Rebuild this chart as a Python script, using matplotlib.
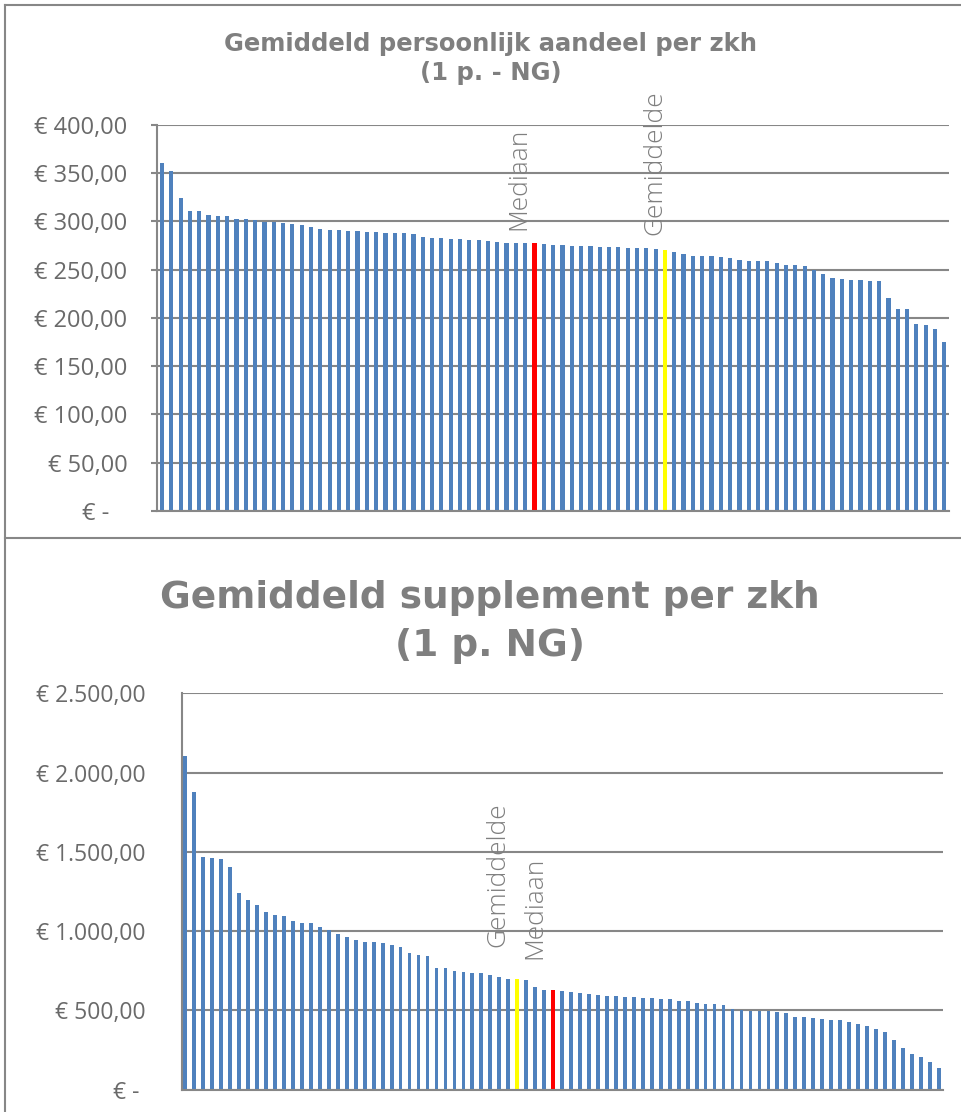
import matplotlib
matplotlib.use("Agg")
import matplotlib.pyplot as plt
from matplotlib.lines import Line2D

# Gemiddeld persoonlijk aandeel per ziekenhuis (1 p. - NG), gesorteerd
aandeel = [361, 352.6, 324, 311, 311, 306.7, 305.7, 305.3, 302.6, 302.6,
           301.9, 299.8, 299.5, 298.4, 297.7, 296.7, 294.6, 292.6, 291.6, 291.2,
           290.5, 289.8, 289.5, 289.1, 288.1, 288.1, 287.8, 286.7, 284.3, 282.9,
           282.6, 282.3, 281.6, 281.2, 280.5, 279.5, 278.8, 278.1, 278.1, 278.1,
           278.1, 276.4, 275.6, 275.6, 274.9, 274.6, 274.6, 273.9, 273.9, 273.6,
           272.9, 272.9, 272.5, 271.5, 270.5, 268.4, 266.3, 264.6, 264.6, 263.9,
           263.6, 262.6, 260.1, 259.4, 259.4, 259.1, 256.7, 255.3, 255.0, 254.3,
           249.7, 245.3, 241.1, 240.4, 239.4, 239.4, 238.3, 238.3, 220.4, 209.3,
           209.3, 193.5, 192.4, 188.9, 175.5]
aandeel_mediaan = 40
aandeel_gemiddelde = 54

# Gemiddeld supplement per ziekenhuis (1 p. NG), gesorteerd
supplement = [2107, 1876, 1468, 1460, 1453, 1403, 1239, 1197, 1165, 1121,
              1100, 1098, 1064, 1054, 1050, 1024, 1010, 982, 965, 942,
              932, 930, 924, 913, 900, 864, 852, 844, 768, 768,
              747, 741, 736, 736, 722, 709, 697, 698, 694, 648,
              631, 631, 623, 616, 610, 604, 597, 591, 589, 583,
              583, 578, 578, 572, 570, 560, 558, 549, 543, 543,
              536, 509, 503, 497, 497, 497, 488, 482, 459, 457,
              452, 444, 438, 438, 429, 415, 400, 381, 364, 314,
              263, 227, 206, 173, 137]
supplement_mediaan = 41
supplement_gemiddelde = 37

ticks_top = [0, 50, 100, 150, 200, 250, 300, 350, 400]
ticks_bottom = [0, 500, 1000, 1500, 2000, 2500]

BLUE = "#4f81bd"
GRID = "#878787"
TXT = "#7f7f7f"
LBL = "#6a6a6a"


def euro(v, pad):
    if v == 0:
        return "€ -" + " " * pad
    s = f"{v:,.2f}".replace(",", "X").replace(".", ",").replace("X", ".")
    return "€ " + s


def bar_colors(n, med, gem):
    cols = [BLUE] * n
    cols[med] = "#ff0000"
    cols[gem] = "#ffff00"
    return cols


def style_axes(ax, ticks, ticklen, pad, size, zero_pad):
    ax.set_ylim(ticks[0], ticks[-1])
    ax.set_yticks(ticks)
    ax.set_yticklabels([euro(t, zero_pad) for t in ticks])
    ax.yaxis.grid(True, color=GRID, linewidth=1.5)
    ax.set_axisbelow(True)
    ax.set_xticks([])
    for side in ["top", "right"]:
        ax.spines[side].set_visible(False)
    for side in ["left", "bottom"]:
        ax.spines[side].set_color(GRID)
        ax.spines[side].set_linewidth(1.5)
    ax.tick_params(axis="y", colors=GRID, length=ticklen, width=1.5,
                   labelcolor=LBL, labelsize=size, pad=pad)
    for lab in ax.get_yticklabels():
        lab.set_fontfamily("Open Sans")


def label(ax, text, i, vals, dx, dy):
    ax.annotate(text, (i, vals[i]), xytext=(dx, dy), textcoords="offset points",
                rotation=90, ha="center", va="bottom", color=TXT, fontsize=19,
                fontfamily="Open Sans", fontweight="light")


fig = plt.figure(figsize=(9.61, 11.12), dpi=100)

# bovenste grafiek
ax1 = fig.add_axes([0.1637, 0.5405, 0.8238, 0.3471])
x1 = range(len(aandeel))
ax1.bar(x1, aandeel, width=0.45,
        color=bar_colors(len(aandeel), aandeel_mediaan, aandeel_gemiddelde))
ax1.set_xlim(-0.5, len(aandeel) - 0.5)
style_axes(ax1, ticks_top, 4.3, 17.3, 17, 3)
label(ax1, "Mediaan", aandeel_mediaan, aandeel, -11, 9)
label(ax1, "Gemiddelde", aandeel_gemiddelde, aandeel, -7, 11)

# onderste grafiek
ax2 = fig.add_axes([0.1891, 0.02005, 0.7925, 0.3564])
x2 = range(len(supplement))
ax2.bar(x2, supplement, width=0.42,
        color=bar_colors(len(supplement), supplement_mediaan, supplement_gemiddelde))
ax2.set_xlim(-0.4, len(supplement) - 0.5)
style_axes(ax2, ticks_bottom, 0, 26, 16.5, 1)
label(ax2, "Gemiddelde", supplement_gemiddelde, supplement, -14, 23)
label(ax2, "Mediaan", supplement_mediaan, supplement, -13, 22)

# titels
fig.text(491 / 961, 1 - 51 / 1112, "Gemiddeld persoonlijk aandeel per zkh",
         ha="center", va="baseline", fontsize=17.5, fontweight="bold", color=TXT)
fig.text(491 / 961, 1 - 80 / 1112, "(1 p. - NG)",
         ha="center", va="baseline", fontsize=17.5, fontweight="bold", color=TXT)
fig.text(490 / 961, 1 - 608 / 1112, "Gemiddeld supplement per zkh",
         ha="center", va="baseline", fontsize=27, fontweight="bold", color=TXT)
fig.text(490 / 961, 1 - 656 / 1112, "(1 p. NG)",
         ha="center", va="baseline", fontsize=27, fontweight="bold", color=TXT)

# kaders rond de grafieken
H = 1112.0
W = 961.0
for y in [4.5, 538]:
    fig.add_artist(Line2D([5 / W, 1], [1 - y / H, 1 - y / H], color=GRID, linewidth=1.5))
fig.add_artist(Line2D([5 / W, 5 / W], [0, 1 - 4.5 / H], color=GRID, linewidth=1.5))

fig.savefig("out.png", dpi=100)
